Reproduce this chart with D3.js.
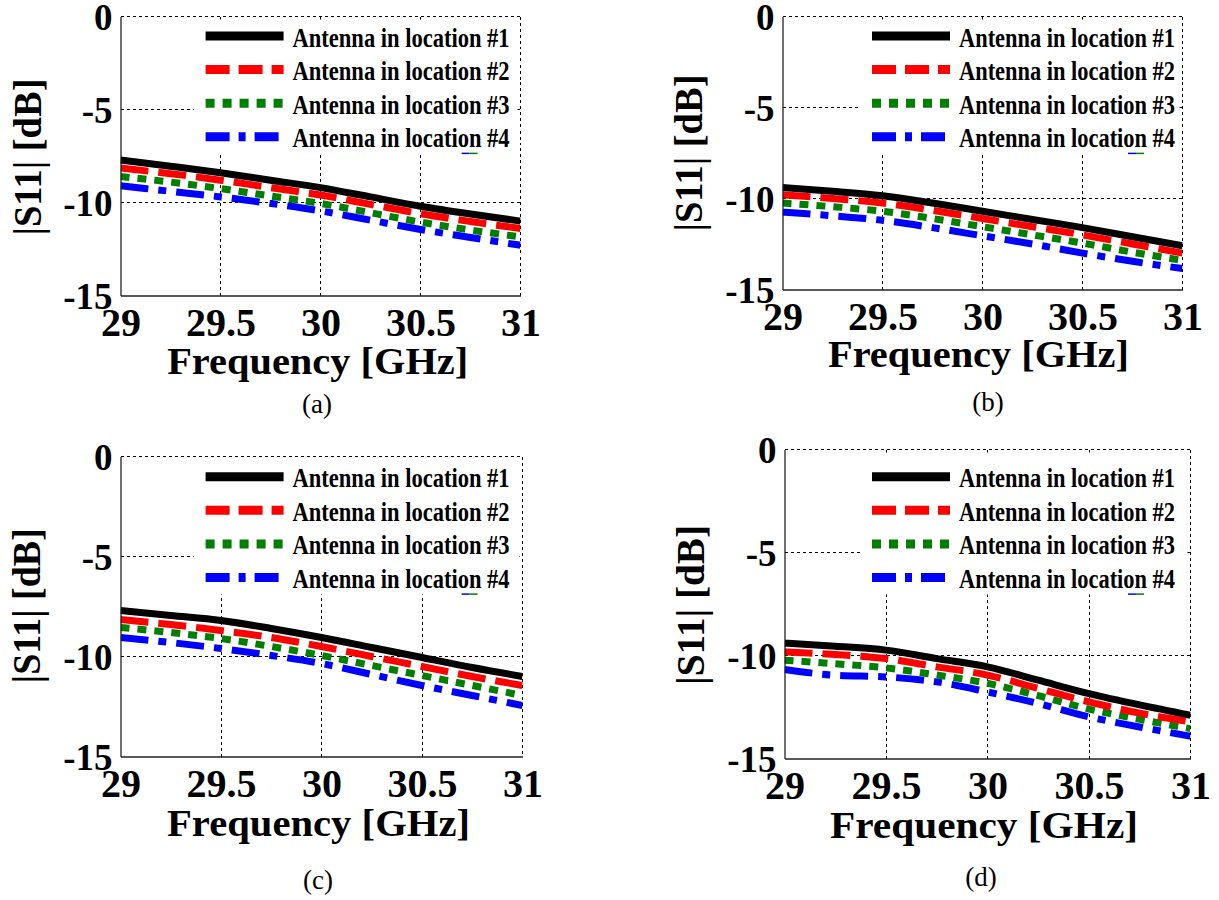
<!DOCTYPE html>
<html>
<head>
<meta charset="utf-8">
<script src="https://cdn.jsdelivr.net/npm/d3@7"></script>
<style>
  body { margin: 0; background: #fff; }
  svg { display: block; }
</style>
</head>
<body>
<svg id="fig" width="1219" height="900"></svg>
<script>
// ---- data -------------------------------------------------------------
const freqGHz = [29, 29.25, 29.5, 29.75, 30, 30.25, 30.5, 30.75, 31];
const xTickValues = [29, 29.5, 30, 30.5, 31];
const yTickValues = [0, -5, -10, -15];
const legendLabels = [
  "Antenna in location #1",
  "Antenna in location #2",
  "Antenna in location #3",
  "Antenna in location #4"
];
const panelCaptions = ["(a)", "(b)", "(c)", "(d)"];

// |S11| in dB, panel (a)
const a_loc1 = [-7.72, -8.05, -8.40, -8.80, -9.20, -9.70, -10.20, -10.62, -11.00];
const a_loc2 = [-8.15, -8.45, -8.80, -9.20, -9.60, -10.10, -10.60, -11.02, -11.40];
const a_loc3 = [-8.60, -8.90, -9.25, -9.65, -10.05, -10.55, -11.05, -11.48, -11.85];
const a_loc4 = [-9.10, -9.40, -9.70, -10.05, -10.45, -10.95, -11.45, -11.88, -12.30];
// panel (b)
const b_loc1 = [-9.40, -9.60, -9.85, -10.25, -10.70, -11.15, -11.60, -12.10, -12.60];
const b_loc2 = [-9.80, -10.00, -10.25, -10.65, -11.10, -11.55, -12.00, -12.50, -13.00];
const b_loc3 = [-10.25, -10.45, -10.70, -11.10, -11.55, -12.00, -12.45, -12.95, -13.40];
const b_loc4 = [-10.75, -10.95, -11.20, -11.60, -12.05, -12.50, -13.00, -13.45, -13.85];
// panel (c)
const c_loc1 = [-7.70, -7.95, -8.20, -8.60, -9.05, -9.55, -10.05, -10.55, -11.00];
const c_loc2 = [-8.15, -8.40, -8.70, -9.05, -9.50, -10.00, -10.50, -11.00, -11.45];
const c_loc3 = [-8.55, -8.80, -9.10, -9.50, -9.95, -10.45, -10.95, -11.45, -11.95];
const c_loc4 = [-9.05, -9.30, -9.60, -9.95, -10.35, -10.90, -11.45, -11.95, -12.45];
// panel (d)
const d_loc1 = [-9.40, -9.55, -9.74, -10.15, -10.55, -11.20, -11.85, -12.40, -12.90];
const d_loc2 = [-9.82, -9.95, -10.15, -10.55, -10.95, -11.60, -12.25, -12.80, -13.22];
const d_loc3 = [-10.23, -10.40, -10.60, -10.95, -11.35, -11.95, -12.60, -13.10, -13.55];
const d_loc4 = [-10.68, -10.96, -11.04, -11.28, -11.77, -12.33, -12.98, -13.47, -13.92];

const panelSeries = [
  [a_loc1, a_loc2, a_loc3, a_loc4],
  [b_loc1, b_loc2, b_loc3, b_loc4],
  [c_loc1, c_loc2, c_loc3, c_loc4],
  [d_loc1, d_loc2, d_loc3, d_loc4]
];

// ---- styles -----------------------------------------------------------
const seriesColors = ["#000000", "#ff0000", "#007f00", "#0000ff"];
const plotDash   = [null, "28,10", "9,8", "28,10,8,10"];
const legendDash = [null, "24,9", "9,8", "24,9,7,9"];
const FONT = "'Liberation Serif', 'Times New Roman', Times, serif";

// ---- layout (pixel boxes of the four axes) ----------------------------
const layout = [
  { x0: 120.5, x1: 520.5, y0: 16.5,  y1: 295.5, legX: 205.6, legY: 36,    legTextW: 217,
    yTitleX: 40.6,  yTitleY: 157,   yTitleW: 157, xTitleX: 317.7, xTitleY: 374,   xTitleW: 301,
    capX: 317, capY: 413 },
  { x0: 782.5, x1: 1182.5, y0: 16.5, y1: 289.5, legX: 872,   legY: 36,    legTextW: 216,
    yTitleX: 702.4, yTitleY: 153,   yTitleW: 157, xTitleX: 978.5, xTitleY: 367,   xTitleW: 301,
    capX: 988, capY: 411 },
  { x0: 120.5, x1: 522.5, y0: 456.5, y1: 756.5, legX: 205.6, legY: 476.7, legTextW: 217,
    yTitleX: 40.4,  yTitleY: 605.7, yTitleW: 155, xTitleX: 318.5, xTitleY: 836,   xTitleW: 303,
    capX: 318, capY: 889 },
  { x0: 784.5, x1: 1190.5, y0: 449.5, y1: 758.5, legX: 872,  legY: 476.7, legTextW: 216,
    yTitleX: 704.4, yTitleY: 605,   yTitleW: 160, xTitleX: 984,   xTitleY: 838,   xTitleW: 308,
    capX: 981, capY: 886 }
];

const svg = d3.select("#fig");
svg.append("rect").attr("width", 1219).attr("height", 900).attr("fill", "#fff");

layout.forEach((L, p) => {
  const g = svg.append("g");
  const x = d3.scaleLinear().domain([29, 31]).range([L.x0, L.x1]);
  const y = d3.scaleLinear().domain([-15, 0]).range([L.y1, L.y0]);
  const px = v => Math.round(v - 0.5) + 0.5;

  // dotted grid
  const grid = g.append("g").attr("stroke", "#000").attr("stroke-width", 1)
    .attr("stroke-dasharray", "3,3").attr("fill", "none")
    .attr("shape-rendering", "crispEdges");
  grid.selectAll("line.v").data(xTickValues.slice(1, -1)).join("line")
    .attr("x1", d => px(x(d))).attr("x2", d => px(x(d))).attr("y1", L.y1).attr("y2", L.y0);
  grid.selectAll("line.h").data(yTickValues.slice(1, -1)).join("line")
    .attr("x1", L.x0).attr("x2", L.x1).attr("y1", d => px(y(d))).attr("y2", d => px(y(d)));

  // curves
  const clipId = "clip" + p;
  svg.append("clipPath").attr("id", clipId).append("rect")
    .attr("x", L.x0).attr("y", L.y0).attr("width", L.x1 - L.x0).attr("height", L.y1 - L.y0);
  const line = d3.line().x((d, i) => x(freqGHz[i])).y(d => y(d)).curve(d3.curveMonotoneX);
  const series = panelSeries[p];
  const curves = g.append("g").attr("clip-path", `url(#${clipId})`);
  [3, 2, 1, 0].forEach(k => {
    curves.append("path")
      .attr("d", line(series[k]))
      .attr("fill", "none")
      .attr("stroke", seriesColors[k])
      .attr("stroke-width", 7)
      .attr("stroke-linecap", "butt")
      .attr("stroke-linejoin", "round")
      .attr("stroke-dasharray", plotDash[k]);
  });

  // legend
  const rowGap = 33.6;
  const leg = g.append("g");
  leg.append("rect")
    .attr("x", L.legX - 12).attr("y", L.y0 + 3)
    .attr("width", L.x1 - 3 - (L.legX - 12))
    .attr("height", L.legY + 3 * rowGap + 17 - (L.y0 + 3))
    .attr("fill", "#fff");
  legendLabels.forEach((lab, k) => {
    const ry = L.legY + k * rowGap;
    leg.append("line")
      .attr("x1", L.legX).attr("x2", L.legX + 78).attr("y1", ry).attr("y2", ry)
      .attr("stroke", seriesColors[k]).attr("stroke-width", 9)
      .attr("stroke-dasharray", legendDash[k]);
    leg.append("text")
      .attr("x", L.legX + 87).attr("y", ry + 10.5)
      .attr("font-family", FONT).attr("font-weight", "bold").attr("font-size", 27)
      .attr("textLength", L.legTextW).attr("lengthAdjust", "spacingAndGlyphs")
      .attr("fill", "#000")
      .text(lab);
  });
  // small underline stroke beneath the last entry
  const uy = L.legY + 3 * rowGap + 16.6;
  const ux = L.legX + 87 + 169;
  leg.append("line").attr("x1", ux).attr("x2", ux + 8).attr("y1", uy).attr("y2", uy)
    .attr("stroke", "#0000ff").attr("stroke-width", 1.5);
  leg.append("line").attr("x1", ux + 8).attr("x2", ux + 16).attr("y1", uy).attr("y2", uy)
    .attr("stroke", "#007f00").attr("stroke-width", 1.5);

  // dotted top and right box edges
  const box = g.append("g").attr("stroke", "#000").attr("stroke-width", 1)
    .attr("stroke-dasharray", "3,3").attr("fill", "none")
    .attr("shape-rendering", "crispEdges");
  box.append("line").attr("x1", L.x0).attr("x2", L.x1).attr("y1", L.y0).attr("y2", L.y0);
  box.append("line").attr("x1", L.x1).attr("x2", L.x1).attr("y1", L.y0).attr("y2", L.y1);

  // axes
  const gx = g.append("g").attr("transform", `translate(0,${L.y1})`)
    .call(d3.axisBottom(x).tickValues(xTickValues).tickSize(0).tickSizeOuter(0)
      .tickPadding(12).tickFormat(d => String(d)));
  const gy = g.append("g").attr("transform", `translate(${L.x0},0)`)
    .call(d3.axisLeft(y).tickValues(yTickValues).tickSize(0).tickSizeOuter(0)
      .tickPadding(8).tickFormat(d => String(d)));
  gx.attr("font-size", 40);
  gy.attr("font-size", 37);
  [gx, gy].forEach(ax => {
    ax.attr("font-family", FONT).attr("font-weight", "bold");
    ax.select(".domain").attr("stroke", "#222").attr("stroke-width", 1.3);
    ax.selectAll("text").attr("fill", "#000");
  });
  gy.selectAll("text").attr("dy", "0.36em");

  // axis titles
  g.append("text")
    .attr("x", L.xTitleX).attr("y", L.xTitleY)
    .attr("text-anchor", "middle")
    .attr("font-family", FONT).attr("font-weight", "bold").attr("font-size", 37)
    .attr("textLength", L.xTitleW).attr("lengthAdjust", "spacingAndGlyphs")
    .text("Frequency [GHz]");
  g.append("text")
    .attr("transform", `translate(${L.yTitleX},${L.yTitleY}) rotate(-90)`)
    .attr("text-anchor", "middle")
    .attr("font-family", FONT).attr("font-weight", "bold").attr("font-size", 39)
    .attr("textLength", L.yTitleW).attr("lengthAdjust", "spacingAndGlyphs")
    .text("|S11| [dB]");

  // panel caption
  g.append("text")
    .attr("x", L.capX).attr("y", L.capY)
    .attr("text-anchor", "middle")
    .attr("font-family", FONT).attr("font-size", 27)
    .text(panelCaptions[p]);
});
</script>
</body>
</html>
